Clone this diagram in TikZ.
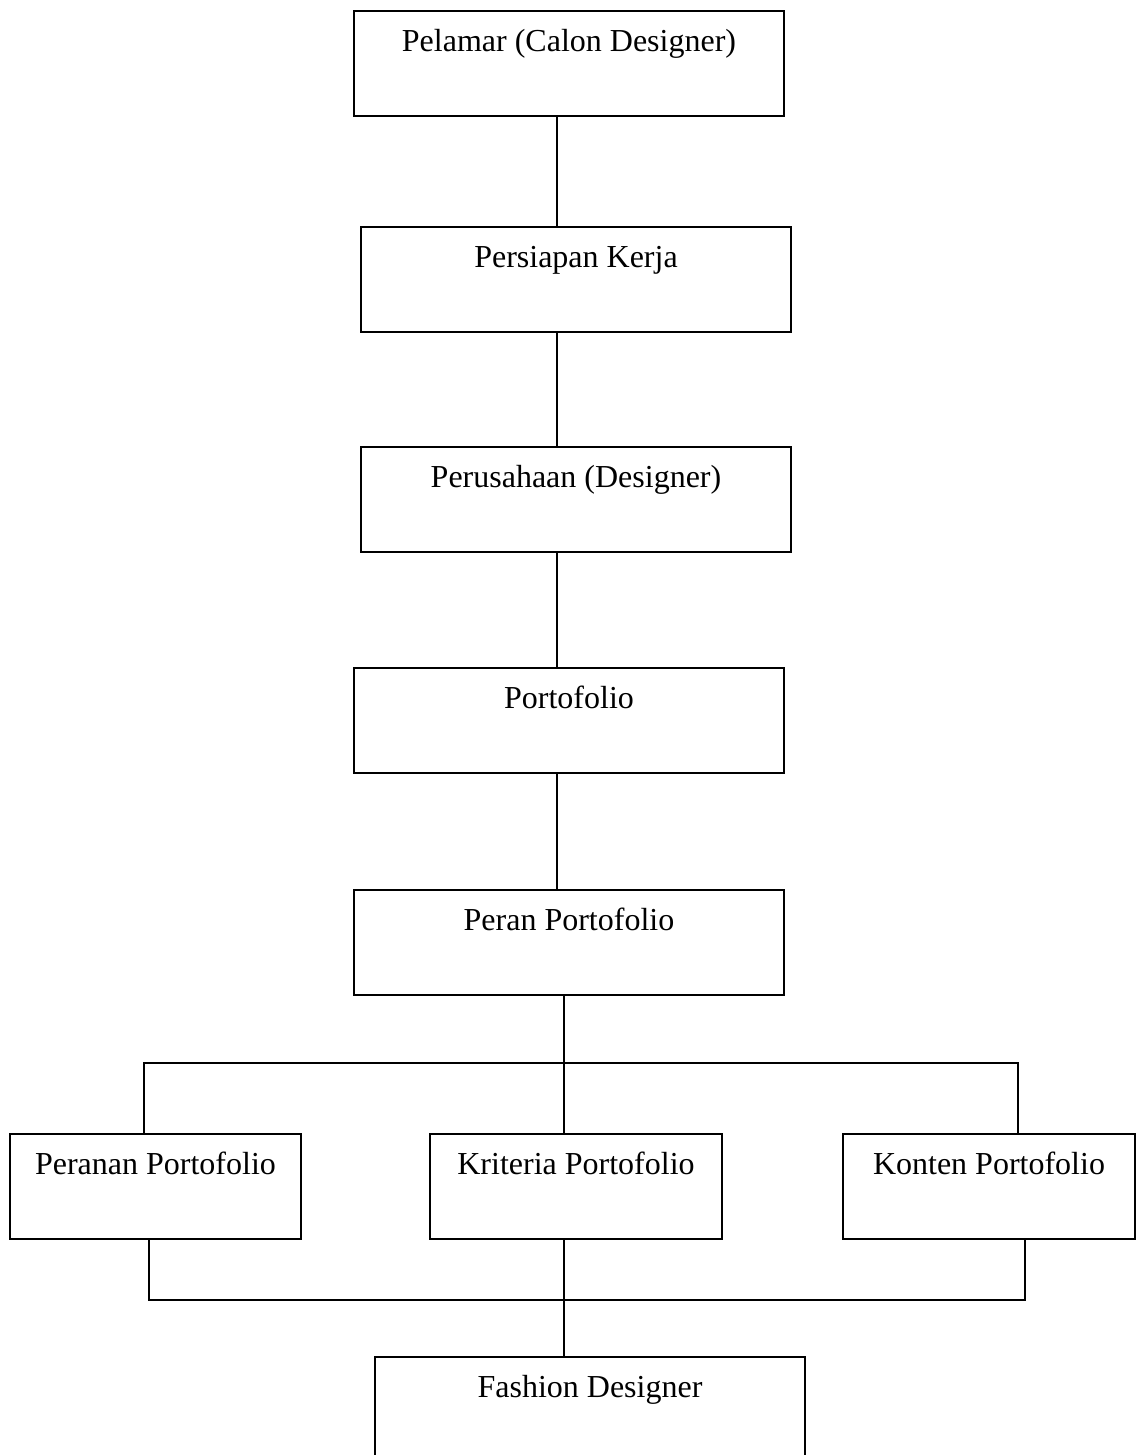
\documentclass[tikz,border=0pt]{standalone}
\usepackage{fontspec}
\setmainfont{Liberation Serif}
\usetikzlibrary{positioning}

\tikzset{
	blok/.style={draw, line width=0.9pt, anchor=north, inner sep=0pt, minimum width=172pt,
		text height=16pt, text depth=26pt, font=\fontsize{12.8}{15}\selectfont},
	blokkecil/.style={blok, minimum width=116.6pt},
	garis/.style={line width=0.9pt}
}

\begin{document}
\begin{tikzpicture}[x=0.4pt,y=-0.4pt]
				\clip (0,0) rectangle (1136,1455);

				\node[blok](pelamar) at (569,10) {Pelamar (Calon Designer)};
				\node[blok](persiapan) at (576,226) {Persiapan Kerja};
				\node[blok](perusahaan) at (576,446) {Perusahaan (Designer)};
				\node[blok](porto) at (569,667) {Portofolio};
				\node[blok](peran) at (569,889) {Peran Portofolio};
				\node[blokkecil](peranan) at (155.5,1133) {Peranan Portofolio};
				\node[blokkecil](kriteria) at (576,1133) {Kriteria Portofolio};
				\node[blokkecil](konten) at (989,1133) {Konten Portofolio};
				\node[blok, text depth=40pt](fashion) at (590,1356) {Fashion Designer};

				\coordinate (spine) at (557,0);
				\coordinate (tengah) at (564,0);
				\coordinate (cabangkiri) at (144,1063);
				\coordinate (cabangkanan) at (1018,1063);
				\coordinate (gabungkiri) at (149,1300);
				\coordinate (gabungkanan) at (1025,1300);

				\draw[garis] (pelamar.south -| spine) to (persiapan.north -| spine);
				\draw[garis] (persiapan.south -| spine) to (perusahaan.north -| spine);
				\draw[garis] (perusahaan.south -| spine) to (porto.north -| spine);
				\draw[garis] (porto.south -| spine) to (peran.north -| spine);
				\draw[garis] (peran.south -| tengah) to (tengah |- cabangkiri);
				\draw[garis] (peranan.north -| cabangkiri) |- (cabangkanan) to (konten.north -| cabangkanan);
				\draw[garis] (tengah |- cabangkiri) to (kriteria.north -| tengah);
				\draw[garis] (peranan.south -| gabungkiri) |- (gabungkanan) to (konten.south -| gabungkanan);
				\draw[garis] (kriteria.south -| tengah) to (fashion.north -| tengah);

\end{tikzpicture}
\end{document}
